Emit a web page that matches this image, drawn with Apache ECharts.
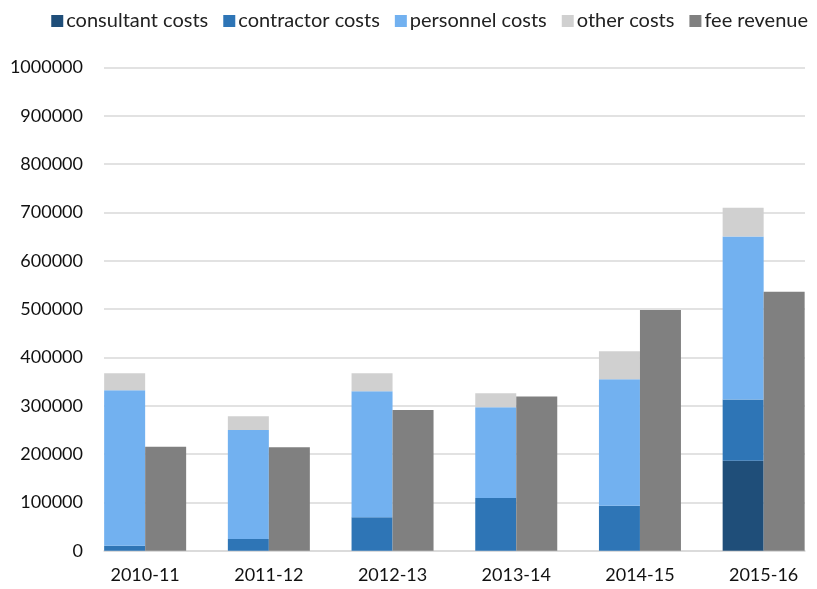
<!DOCTYPE html>
<html>
<head>
<meta charset="utf-8">
<script src="https://cdn.jsdelivr.net/npm/echarts@6/dist/echarts.min.js"></script>
<style>
  html, body { margin: 0; padding: 0; background: #fff; }
  #chart { width: 817px; height: 589px; }
</style>
</head>
<body>
<div id="chart"></div>
<script>
// data
const years = ['2010-11', '2011-12', '2012-13', '2013-14', '2014-15', '2015-16'];
const consultant = [0, 0, 0, 0, 0, 186000];
const contractor = [10000, 24000, 69000, 109000, 93000, 127000];
const personnel = [322000, 226000, 261000, 188000, 262000, 337000];
const other = [35000, 28000, 37000, 29000, 58000, 60000];
const fee = [215000, 214000, 291000, 319000, 498000, 536000];
const yTicks = { min: 0, max: 1000000, step: 100000 };

const font = 'Lato, "DejaVu Sans", sans-serif';
const gridTop = 67.5, gridBottom = 38.3;

const chart = echarts.init(document.getElementById('chart'));

function bar(name, data, color, stack) {
  return {
    name: name,
    type: 'bar',
    stack: stack,
    data: data,
    xAxisIndex: 0,
    yAxisIndex: 0,
    barWidth: 41,
    barGap: '0%',
    itemStyle: { color: color },
    emphasis: { disabled: true }
  };
}

chart.setOption({
  animation: false,
  textStyle: { fontFamily: font },
  legend: {
    top: 6,
    right: 4,
    itemWidth: 12,
    itemHeight: 12,
    itemGap: 15,
    icon: 'rect',
    textStyle: { fontSize: 20, color: '#222', fontFamily: font, padding: [0, 0, 0, -2] },
    data: ['consultant costs', 'contractor costs', 'personnel costs', 'other costs', 'fee revenue']
  },
  grid: [
    // bars: groups run flush to both ends of the plotting area
    { left: 83.3, width: 742.2, top: gridTop, bottom: gridBottom, outerBoundsMode: 'none' },
    // gridlines and value labels
    { left: 104, right: 12, top: gridTop, bottom: gridBottom, outerBoundsMode: 'none' }
  ],
  xAxis: [
    {
      type: 'category',
      gridIndex: 0,
      data: years,
      axisTick: { show: false },
      axisLine: { show: false },
      axisLabel: { fontSize: 18, color: '#111', margin: 15, fontFamily: font }
    },
    {
      type: 'value',
      gridIndex: 1,
      min: 0,
      max: 1,
      axisTick: { show: false },
      axisLabel: { show: false },
      splitLine: { show: false },
      axisLine: { show: true, lineStyle: { color: '#D9D9D9', width: 1.5 } }
    }
  ],
  yAxis: [
    {
      type: 'value',
      gridIndex: 0,
      min: yTicks.min,
      max: yTicks.max,
      show: false,
      splitLine: { show: false }
    },
    {
      type: 'value',
      gridIndex: 1,
      min: yTicks.min,
      max: yTicks.max,
      interval: yTicks.step,
      axisLine: { show: false },
      axisTick: { show: false },
      splitLine: { lineStyle: { color: '#D9D9D9', width: 1.5 } },
      axisLabel: { fontSize: 18, color: '#111', margin: 21, fontFamily: font, formatter: v => String(v) }
    }
  ],
  series: [
    bar('consultant costs', consultant, '#1F4E79', 'costs'),
    bar('contractor costs', contractor, '#2E75B6', 'costs'),
    bar('personnel costs', personnel, '#72B1F0', 'costs'),
    bar('other costs', other, '#D0D0D0', 'costs'),
    bar('fee revenue', fee, '#808080', 'fee')
  ]
});
</script>
</body>
</html>
